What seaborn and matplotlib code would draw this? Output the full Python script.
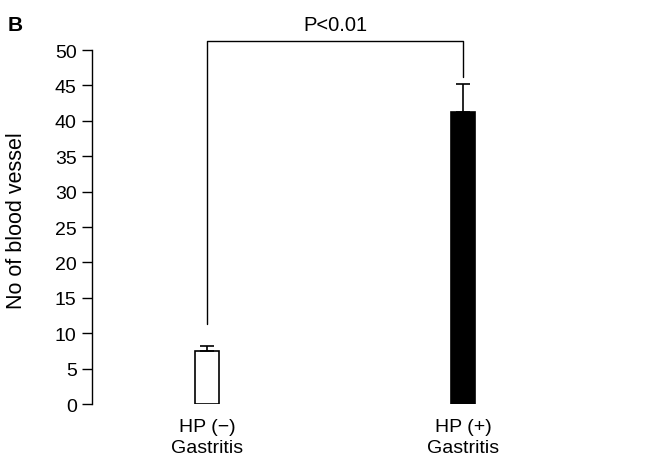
import matplotlib
matplotlib.use("Agg")
import matplotlib.pyplot as plt
import seaborn as sns
import pandas as pd

categories = ["HP (−)\nGastritis", "HP (+)\nGastritis"]
means = [7.5, 41.2]
errors = [0.7, 4.0]
colors = ["white", "black"]
y_ticks = [0, 5, 10, 15, 20, 25, 30, 35, 40, 45, 50]
bracket_left = 11.3
bracket_top = 51.3
bracket_right = 46.2
p_text = "P<0.01"

sns.set_theme(style="white")
plt.rcParams["font.family"] = ["Liberation Sans", "DejaVu Sans"]
plt.rcParams["text.color"] = "black"
plt.rcParams["axes.labelcolor"] = "black"
plt.rcParams["xtick.color"] = "black"
plt.rcParams["ytick.color"] = "black"

df = pd.DataFrame({"group": categories, "value": means})

fig = plt.figure(figsize=(6.5, 4.64), dpi=100)
ax = fig.add_axes([0.1415, 0.127, 0.89 - 0.1415, 0.89 - 0.127])

sns.barplot(data=df, x="group", y="value", hue="group", palette=colors,
            edgecolor="black", linewidth=1.2, width=0.093, legend=False, ax=ax)
ax.errorbar([0, 1], means, yerr=[[0, 0], errors], fmt="none", ecolor="black",
            elinewidth=1.2, capsize=5, capthick=1.2)

ax.plot([0, 0, 1, 1], [bracket_left, bracket_top, bracket_top, bracket_right],
        color="black", lw=1, clip_on=False)
ax.text(0.5, bracket_top + 1.0, p_text, ha="center", va="bottom", fontsize=14.5)

ax.set_xlim(-0.45, 1.45)
ax.set_ylim(0, 50)
ax.set_yticks(y_ticks)
ax.set_xticks([0, 1])
ax.set_xticklabels(categories, linespacing=1.3)
ax.tick_params(axis="y", which="both", left=True, length=7, width=1, labelsize=14, pad=4)
ax.tick_params(axis="x", length=0, labelsize=14, pad=10)
ax.set_xlabel("")
ax.set_ylabel("No of blood vessel", fontsize=15.5)
ax.yaxis.set_label_coords(-0.134, 0.52)
for s in ["top", "right", "bottom"]:
    ax.spines[s].set_visible(False)
ax.spines["left"].set_color("black")
ax.spines["left"].set_linewidth(1)
ax.set_facecolor("white")

fig.text(0.012, 0.965, "B", fontsize=15, fontweight="bold", ha="left", va="top")

fig.savefig("out.png", dpi=100, facecolor="white")
